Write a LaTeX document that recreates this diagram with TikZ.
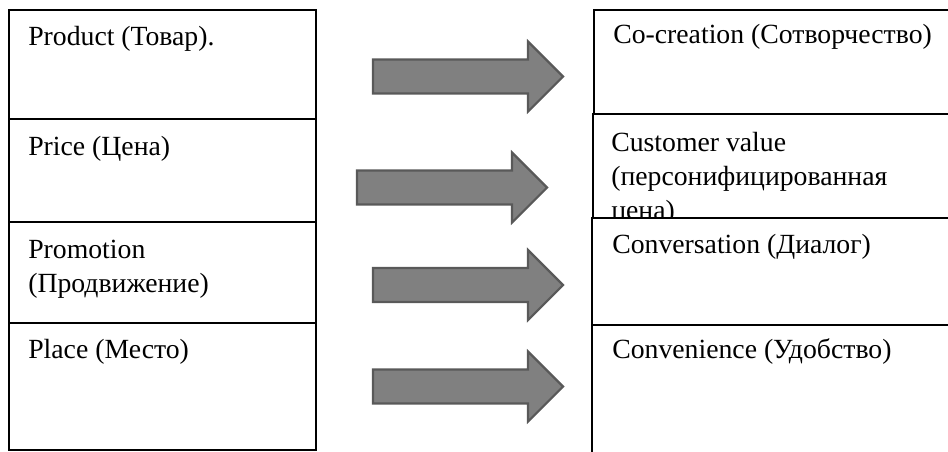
\documentclass[tikz,border=0pt]{standalone}
\usepackage{fontspec}
\setmainfont{Liberation Serif}
\usetikzlibrary{calc}
\tikzset{
  cell/.style={line width=1.3pt, draw=black, fill=white},
  label/.style={anchor=base west, inner sep=0pt, align=left, font=\fontsize{20.8}{25.5}\selectfont},
  blockarrow/.style={line width=1.6pt, draw=black!65, fill=black!50, line join=miter}
}
\def\bigarrow(#1,#2){\draw[blockarrow] (#1,#2) ++(0,-17) -- ++(155,0) -- ++(0,-18) -- ++(35,35) -- ++(-35,35) -- ++(0,-18) -- ++(-155,0) -- cycle;}

\begin{document}
\begin{tikzpicture}[x=0.75pt, y=-0.75pt]
			%%%%% START %%%%%
			\clip (0, 0) rectangle (948, 451);
			
			%% left column (multi-line labels sit on their last baseline)
			\draw[cell] (9, 10) rectangle (316, 119);
			\node[label] (product) at (28, 45) {Product (Товар).};
			\draw[cell] (9, 119) rectangle (316, 222);
			\node[label] (price) at (28, 155) {Price (Цена)};
			\draw[cell] (9, 222) rectangle (316, 323);
			\node[label] (promotion) at (28, 292) {Promotion\\(Продвижение)};
			\draw[cell] (9, 323) rectangle (316, 450);
			\node[label] (place) at (28, 358) {Place (Место)};
			
			%% arrows
			\bigarrow(373, 76.5)
			\bigarrow(357, 187.5)
			\bigarrow(373, 285)
			\bigarrow(373, 386.5)
			
			%% right column
			\draw[cell] (594, 10) rectangle (970, 114);
			\node[label] (cocreation) at (613, 43) {Co-creation (Сотворчество)};
			\draw[cell] (593, 114) rectangle (970, 218);
			\node[label] (custvalue) at (611, 219) {Customer value\\(персонифицированная\\цена)};
			\draw[cell] (592, 218) rectangle (970, 325);
			\node[label] (conversation) at (612, 253) {Conversation (Диалог)};
			\draw[cell] (592, 325) rectangle (970, 470);
			\node[label] (convenience) at (612, 358) {Convenience (Удобство)};
			%%%%% END %%%%%
\end{tikzpicture}
\end{document}
